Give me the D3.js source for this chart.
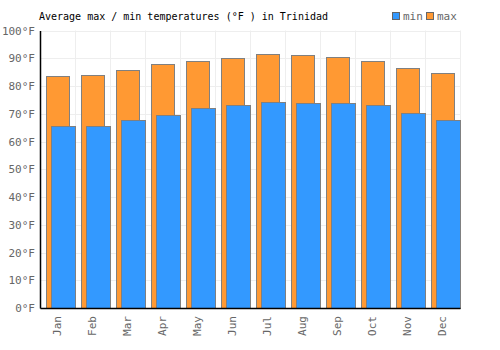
<!DOCTYPE html>
<html>
<head>
<meta charset="utf-8">
<script src="https://cdn.jsdelivr.net/npm/d3@7"></script>
<style>
  body { margin: 0; background: #fff; }
  text { font-family: "DejaVu Sans Mono", monospace; }
</style>
</head>
<body>
<script>
// months and the two series
const months = ['Jan', 'Feb', 'Mar', 'Apr', 'May', 'Jun', 'Jul', 'Aug', 'Sep', 'Oct', 'Nov', 'Dec']
const maxTemps = [83.6, 84.0, 85.8, 88.0, 89.1, 90.0, 91.4, 91.1, 90.3, 89.1, 86.5, 84.7]
const minTemps = [65.6, 65.6, 67.8, 69.7, 72.1, 73.3, 74.3, 73.9, 73.9, 73.2, 70.3, 67.8]
const yTicks = [0, 10, 20, 30, 40, 50, 60, 70, 80, 90, 100]

const width = 500
const height = 350
const margin = { top: 30.5, right: 40, bottom: 42, left: 40 }

const svg = d3.select('body').append('svg')
  .attr('width', width)
  .attr('height', height)

const x = d3.scaleBand()
  .domain(months)
  .range([margin.left, width - margin.right])

const y = d3.scaleLinear()
  .domain([0, 100])
  .range([height - margin.bottom, margin.top])

// grid
const grid = svg.append('g').attr('class', 'grid')
grid.selectAll('line.h')
  .data(yTicks)
  .enter().append('line')
  .attr('x1', margin.left)
  .attr('x2', width - margin.right)
  .attr('y1', d => Math.round(y(d)) + 0.5)
  .attr('y2', d => Math.round(y(d)) + 0.5)
  .attr('stroke', '#eeeeee')
grid.selectAll('line.v')
  .data(months)
  .enter().append('line')
  .attr('x1', d => Math.round(x(d) + x.bandwidth()) + 0.5)
  .attr('x2', d => Math.round(x(d) + x.bandwidth()) + 0.5)
  .attr('y1', margin.top)
  .attr('y2', height - margin.bottom)
  .attr('stroke', '#eeeeee')

const bw = x.bandwidth()

// max bars sit behind, shifted left
svg.append('g').selectAll('rect')
  .data(maxTemps)
  .enter().append('rect')
  .attr('x', (d, i) => Math.round(x(months[i]) + bw * 0.18) + 0.5)
  .attr('width', Math.round(bw * 0.67))
  .attr('y', d => Math.round(y(d)) + 0.5)
  .attr('height', d => y(0) - Math.round(y(d)))
  .attr('fill', '#ff9933')
  .attr('stroke', '#808080')
  .attr('stroke-width', 1)

svg.append('g').selectAll('rect')
  .data(minTemps)
  .enter().append('rect')
  .attr('x', (d, i) => Math.round(x(months[i]) + bw * 0.32) + 0.5)
  .attr('width', Math.round(bw * 0.68))
  .attr('y', d => Math.round(y(d)) + 0.5)
  .attr('height', d => y(0) - Math.round(y(d)))
  .attr('fill', '#3399ff')
  .attr('stroke', '#808080')
  .attr('stroke-width', 1)

// axes
const yAxis = svg.append('g')
  .attr('transform', `translate(${margin.left},0)`)
  .call(d3.axisLeft(y).tickValues(yTicks).tickSize(0).tickPadding(5).tickFormat(d => d + '°F'))
yAxis.select('.domain').attr('stroke', '#000').attr('stroke-width', 1.5)
yAxis.selectAll('text').attr('fill', '#666').style('font-size', '11px')

const xAxis = svg.append('g')
  .attr('transform', `translate(0,${height - margin.bottom})`)
  .call(d3.axisBottom(x).tickSize(0).tickPadding(6))
xAxis.select('.domain').attr('stroke', '#000').attr('stroke-width', 1.5)
xAxis.selectAll('text')
  .attr('fill', '#666')
  .style('font-size', '11px')
  .attr('text-anchor', 'end')
  .attr('dy', '0.35em')
  .attr('transform', 'rotate(-90)')
  .attr('x', -8)
  .attr('y', 0)

// title
svg.append('text')
  .attr('x', 39)
  .attr('y', 20)
  .attr('fill', '#000')
  .style('font-size', '10px')
  .text('Average max / min temperatures (°F ) in Trinidad')

// legend
const legend = svg.append('g').attr('transform', 'translate(392,12)')
const legendItems = [{ label: 'min', color: '#3399ff' }, { label: 'max', color: '#ff9933' }]
const item = legend.selectAll('g')
  .data(legendItems)
  .enter().append('g')
  .attr('transform', (d, i) => `translate(${i * 34},0)`)
item.append('rect')
  .attr('x', 0.5)
  .attr('y', 0.5)
  .attr('width', 7)
  .attr('height', 7)
  .attr('fill', d => d.color)
  .attr('stroke', '#666')
item.append('text')
  .attr('x', 11)
  .attr('y', 8)
  .attr('fill', '#666')
  .style('font-size', '11px')
  .text(d => d.label)
</script>
</body>
</html>
